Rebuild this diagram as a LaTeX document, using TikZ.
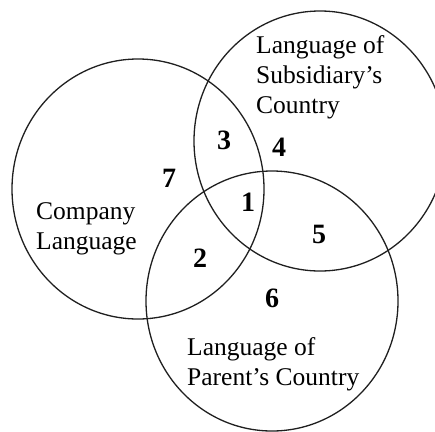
\documentclass[tikz,border=0pt]{standalone}
\usepackage{fontspec}
\setmainfont{Liberation Serif}
\begin{document}
\begin{tikzpicture}[x=1pt,y=-1pt,
  ring/.style={draw=black!88,line width=1.3pt},
  setlabel/.style={inner sep=0pt,anchor=base west,align=left,
    font=\fontsize{25.5}{30}\selectfont},
  region/.style={inner sep=0pt,anchor=base,font=\bfseries\fontsize{28}{30}\selectfont}]
  \useasboundingbox (0,0) rectangle (435,431);
  \clip (0,0) rectangle (435,431);
  % the three overlapping sets
  \draw[ring] (138,189) ellipse [x radius=126pt,y radius=130pt];
  \draw[ring] (320,141) ellipse [x radius=126pt,y radius=130pt];
  \draw[ring] (272,301) ellipse [x radius=126pt,y radius=130pt];
  % set names (anchored on the baseline of their last line)
  \node[setlabel] (company) at (36,249) {Company\\Language};
  \node[setlabel] (subsidiary) at (256,113) {Language of\\Subsidiary’s\\Country};
  \node[setlabel] (parent) at (187,385) {Language of\\Parent’s Country};
  % region numbers
  \node[region] (r1) at (248,211) {1};
  \node[region] (r2) at (200,267) {2};
  \node[region] (r3) at (224,149) {3};
  \node[region] (r4) at (279,156) {4};
  \node[region] (r5) at (319,243) {5};
  \node[region] (r6) at (272,307) {6};
  \node[region] (r7) at (169,187) {7};
\end{tikzpicture}
\end{document}
